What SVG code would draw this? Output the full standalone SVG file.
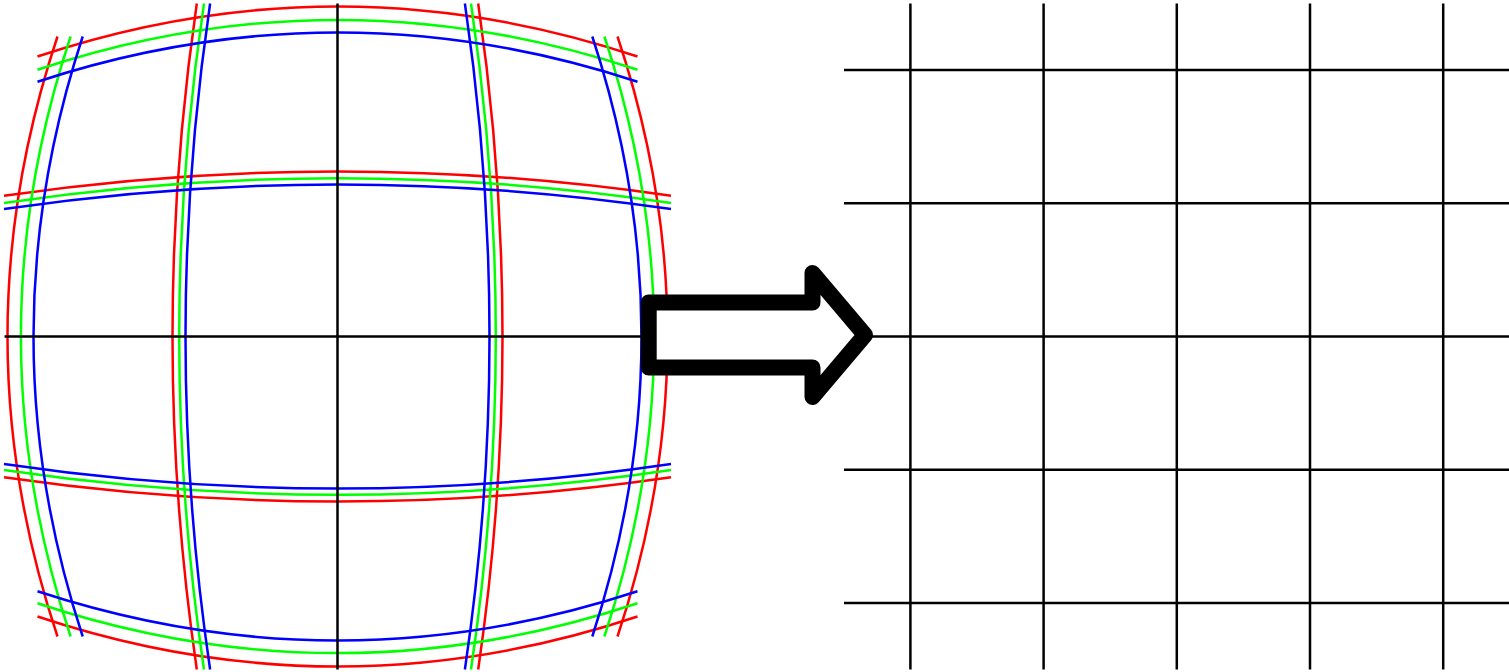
<svg xmlns="http://www.w3.org/2000/svg" width="1509" height="672" viewBox="0 0 1509 672">
  <style>
    .l { fill: none; stroke-width: 2.5; }
    .r { stroke: #ff0000; }
    .g { stroke: #00ff00; }
    .b { stroke: #0000ff; }
    .k { stroke: #000000; }
    .arrow { fill: #ffffff; stroke: #000000; stroke-width: 16; stroke-linejoin: round; }
  </style>
  <rect x="0" y="0" width="1509" height="672" fill="#ffffff"/>
  <g id="distorted-grid">
    <g id="red-lines" class="l r">
      <path d="M37.5,56.5 Q337.5,-43.5 637.5,56.5"/>
      <path d="M37.5,616.5 Q337.5,716.5 637.5,616.5"/>
      <path d="M4,195.8 Q337.5,147.2 671,195.8"/>
      <path d="M4,477.2 Q337.5,525.8 671,477.2"/>
      <path d="M57.5,36.5 Q-42.5,336.5 57.5,636.5"/>
      <path d="M617.5,36.5 Q717.5,336.5 617.5,636.5"/>
      <path d="M196.8,3.5 Q148.2,336.5 196.8,669.5"/>
      <path d="M478.2,3.5 Q526.8,336.5 478.2,669.5"/>
    </g>
    <g id="green-lines" class="l g">
      <path d="M37.5,69.8 Q337.5,-30 637.5,69.8"/>
      <path d="M37.5,603.2 Q337.5,703 637.5,603.2"/>
      <path d="M4,203 Q337.5,153.4 671,203"/>
      <path d="M4,470 Q337.5,519.6 671,470"/>
      <path d="M70.6,36.5 Q-28.8,336.5 70.6,636.5"/>
      <path d="M604.4,36.5 Q703.8,336.5 604.4,636.5"/>
      <path d="M204,3.5 Q154.4,336.5 204,669.5"/>
      <path d="M471,3.5 Q520.6,336.5 471,669.5"/>
    </g>
    <g id="blue-lines" class="l b">
      <path d="M37.5,81.7 Q337.5,-16.7 637.5,81.7"/>
      <path d="M37.5,591.3 Q337.5,689.7 637.5,591.3"/>
      <path d="M4,209.1 Q337.5,159.9 671,209.1"/>
      <path d="M4,463.9 Q337.5,513.1 671,463.9"/>
      <path d="M82.7,36.5 Q-15.7,336.5 82.7,636.5"/>
      <path d="M592.3,36.5 Q690.7,336.5 592.3,636.5"/>
      <path d="M210.1,3.5 Q160.9,336.5 210.1,669.5"/>
      <path d="M464.9,3.5 Q514.1,336.5 464.9,669.5"/>
    </g>
    <g id="distorted-axes" class="l k">
      <line x1="337.5" y1="3.5" x2="337.5" y2="669.5"/>
      <line x1="4.5" y1="336.5" x2="670.5" y2="336.5"/>
    </g>
  </g>
  <g id="corrected-grid" class="l k">
    <line x1="910.4" y1="3.5" x2="910.4" y2="669.5"/>
    <line x1="1043.6" y1="3.5" x2="1043.6" y2="669.5"/>
    <line x1="1176.8" y1="3.5" x2="1176.8" y2="669.5"/>
    <line x1="1310" y1="3.5" x2="1310" y2="669.5"/>
    <line x1="1443.2" y1="3.5" x2="1443.2" y2="669.5"/>
    <line x1="844" y1="70.1" x2="1509" y2="70.1"/>
    <line x1="844" y1="203.3" x2="1509" y2="203.3"/>
    <line x1="844" y1="336.5" x2="1509" y2="336.5"/>
    <line x1="844" y1="469.7" x2="1509" y2="469.7"/>
    <line x1="844" y1="602.9" x2="1509" y2="602.9"/>
  </g>
  <g id="arrow">
    <path class="arrow" d="M648.7,302.5 L812.5,302.5 L812.5,273 L865,335 L812.5,397 L812.5,367.5 L648.7,367.5 Z"/>
  </g>
</svg>
